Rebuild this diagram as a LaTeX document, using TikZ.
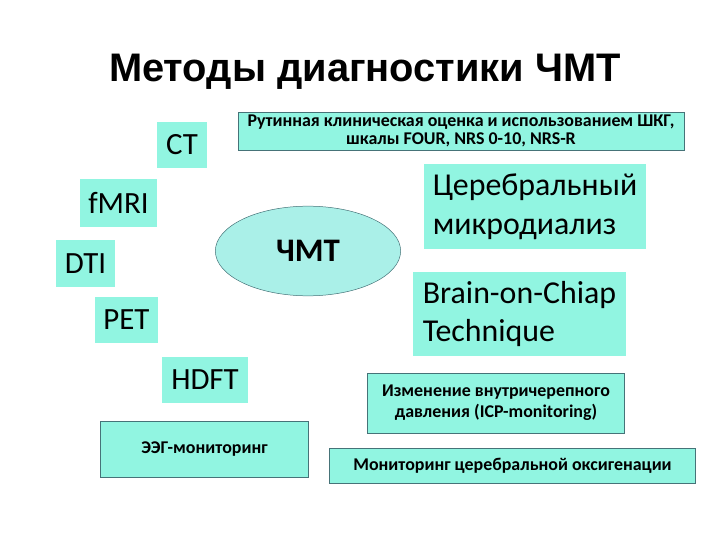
\documentclass[tikz,border=0pt]{standalone}
\usepackage{fontspec}
\usetikzlibrary{shapes.geometric}
\setmainfont{Carlito}
\newfontfamily\titlefont{Liberation Sans}
\definecolor{aqua}{RGB}{145,245,225}
\definecolor{aqualight}{RGB}{170,240,232}
\definecolor{edge}{RGB}{70,115,120}
\begin{document}
\begin{tikzpicture}[x=1bp, y=-1bp,
  tag/.style={fill=aqua, inner sep=0pt, font=\fontsize{31}{36}\selectfont},
  bigtag/.style={fill=aqua, inner sep=0pt, align=left, font=\fontsize{32}{39}\selectfont},
  framed/.style={fill=aqua, draw=edge, line width=0.6pt, inner sep=0pt, align=center, font=\bfseries\fontsize{18}{21}\selectfont}]
  \useasboundingbox (0,0) rectangle (720,540);

  % Title
  \node[anchor=base, font=\titlefont\bfseries\fontsize{40}{46}\selectfont] (title) at (365,82) {Методы диагностики ЧМТ};

  % Centre
  \node[ellipse, fill=aqualight, draw=edge, line width=0.5pt, minimum width=186, minimum height=90, inner sep=0pt,
        font=\bfseries\fontsize{33}{38}\selectfont] (tmt) at (308,251) {ЧМТ};

  % Imaging methods, left
  \node[tag, minimum width=50, minimum height=46] (ct) at (182,145) {CT};
  \node[tag, minimum width=77, minimum height=48] (fmri) at (118.5,203) {fMRI};
  \node[tag, minimum width=59, minimum height=47] (dti) at (85.5,263.5) {DTI};
  \node[tag, minimum width=63, minimum height=46] (pet) at (126.5,320) {PET};
  \node[tag, minimum width=86, minimum height=46] (hdft) at (205,380) {HDFT};
  \node[framed, minimum width=209, minimum height=56] (eeg) at (204.5,449) {ЭЭГ-мониторинг};

  % Monitoring methods, right
  \node[framed, minimum width=448, minimum height=38, font=\bfseries\fontsize{18}{18.5}\selectfont] (routine) at (461,131)
    {Рутинная клиническая оценка и использованием ШКГ,\\ шкалы FOUR, NRS 0-10, NRS-R};
  \node[bigtag, minimum width=222, minimum height=85] (micro) at (535,206.5) {Церебральный\\ микродиализ};
  \node[bigtag, minimum width=213, minimum height=84] (brain) at (519.5,314) {Brain-on-Chiap\\ Technique};
  \node[framed, minimum width=258, minimum height=60] (icp) at (496,403)
    {Изменение внутричерепного\\ давления (ICP-monitoring)};
  \node[framed, minimum width=367, minimum height=35] (oxy) at (512.5,465.5) {Мониторинг церебральной оксигенации};
\end{tikzpicture}
\end{document}
